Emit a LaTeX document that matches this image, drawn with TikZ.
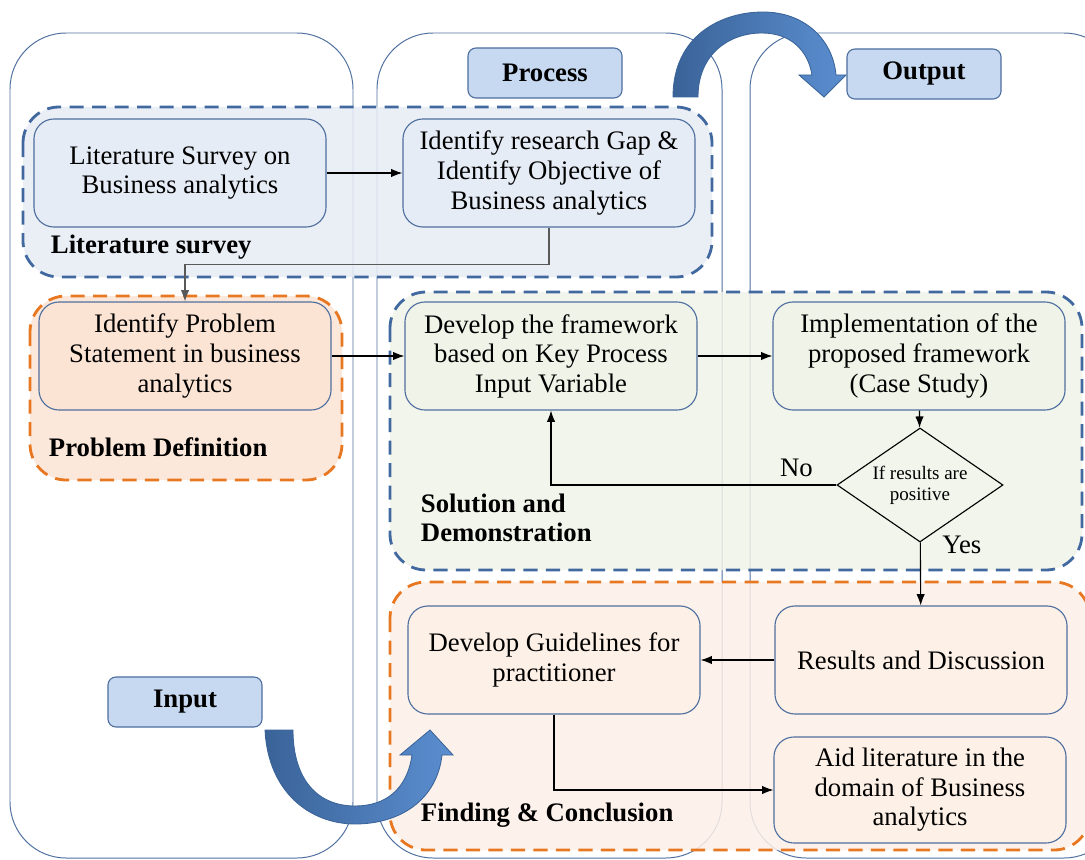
\documentclass[tikz,border=0pt]{standalone}
\usepackage{fontspec}
\setmainfont{Liberation Serif}
\usetikzlibrary{shapes.geometric,arrows.meta}
\definecolor{laneblue}{HTML}{4F6F9F}
\definecolor{dashblue}{HTML}{41689F}
\definecolor{dashorange}{HTML}{E87722}
\definecolor{tagfill}{HTML}{C6D9F1}
\definecolor{litfill}{HTML}{E6ECF5}
\definecolor{probfill}{HTML}{FCE4D4}
\definecolor{solfill}{HTML}{F0F3E8}
\definecolor{findfill}{HTML}{FDF0E7}
\definecolor{arrowdark}{HTML}{3A6398}
\definecolor{arrowlight}{HTML}{5B8ED0}
\tikzset{
  lane/.style={draw=laneblue, line width=0.7pt, rounded corners=1.4cm},
  region/.style={line width=2pt, dash pattern=on 10pt off 6pt, rounded corners=0.9cm, fill opacity=0.85},
  stepbox/.style={draw=laneblue, line width=0.8pt, rounded corners=0.5cm, minimum width=7.3cm, minimum height=2.7cm, align=center, font=\fontsize{19}{21}\selectfont},
  tagbox/.style={draw=laneblue, fill=tagfill, line width=0.8pt, rounded corners=0.2cm, minimum width=3.85cm, minimum height=1.25cm, font=\fontsize{19}{21}\selectfont\bfseries},
  regionlabel/.style={anchor=west, align=left, font=\fontsize{19}{21}\selectfont\bfseries},
  arr/.style={-{Latex[length=8pt,width=6pt]}, line width=0.8pt},
  bigarrow/.style={draw=arrowdark, line width=0.6pt, left color=arrowdark, right color=arrowlight}
}
\begin{document}
\begin{tikzpicture}[x=0.025cm,y=-0.025cm]
\useasboundingbox (0,0) rectangle (1085,860);
\clip (0,0) rectangle (1085,860);
% lanes
\draw[lane] (10,33) rectangle (353,858);
\draw[lane] (377,33) rectangle (722,858);
\draw[lane] (750,33) rectangle (1120,858);

% regions
\draw[region, draw=dashblue, fill=litfill] (23,107) rectangle (712,277);
\draw[region, draw=dashorange, fill=probfill] (30,296) rectangle (342,480);
\draw[region, draw=dashblue, fill=solfill] (390,292) rectangle (1082,570);
\draw[region, draw=dashorange, fill=findfill] (390,582) rectangle (1090,850);

% curved arrows
\draw[bigarrow] (673,97) .. controls (673,35) and (722,12) .. (763,12)
  .. controls (805,12) and (833,40) .. (836,75) -- (846,75) -- (824,97) -- (799,75) -- (812,75)
  .. controls (808,50) and (790,33) .. (762,33) .. controls (728,33) and (698,55) .. (698,97) -- cycle;
\draw[bigarrow] (265,730) .. controls (268,792) and (310,824) .. (355,824)
  .. controls (400,824) and (437,800) .. (442,755) -- (453,755) -- (430,730) -- (400,755) -- (412,755)
  .. controls (407,790) and (385,806) .. (355,806) .. controls (318,806) and (293,780) .. (293,730) -- cycle;

% tags
\node[tagbox] (process) at (545,73) {Process};
\node[tagbox] (output) at (924,74) {Output};
\node[tagbox] (input) at (185,702) {Input};

% steps
\node[stepbox, fill=litfill] (lit) at (180,173) {Literature Survey on\\Business analytics};
\node[stepbox, fill=litfill] (gap) at (549,173) {Identify research Gap \&\\Identify Objective of\\Business analytics};
\node[stepbox, fill=probfill] (prob) at (185,356) {Identify Problem\\Statement in business\\analytics};
\node[stepbox, fill=solfill] (dev) at (551,356) {Develop the framework\\based on Key Process\\Input Variable};
\node[stepbox, fill=solfill] (impl) at (919,356) {Implementation of the\\proposed framework\\(Case Study)};
\node[draw, line width=0.8pt, shape=diamond, shape aspect=1.46, inner sep=0pt, minimum width=4.15cm, minimum height=2.85cm, align=center, font=\fontsize{13.5}{15}\selectfont] (check) at (920,485) {If results are\\positive};
\node[stepbox, fill=findfill] (res) at (921,660) {Results and Discussion};
\node[stepbox, fill=findfill] (guide) at (554,660) {Develop Guidelines for\\practitioner};
\node[stepbox, fill=findfill, minimum height=2.65cm] (aid) at (920,790) {Aid literature in the\\domain of Business\\analytics};

% region labels
\node[regionlabel] (litlabel) at (46,247) {Literature survey};
\node[regionlabel] (problabel) at (44,447) {Problem Definition};
\node[regionlabel] (sollabel) at (416,518) {Solution and\\Demonstration};
\node[regionlabel] (findlabel) at (416,815) {Finding \& Conclusion};

% connectors
\draw[arr] (lit) -- (gap);
\draw[arr, draw=gray!70!black] (gap.south) -- ++(0,37) -| (prob.north);
\draw[arr] (prob) -- (dev);
\draw[arr] (dev) -- (impl);
\draw[arr] (impl) -- (check);
\draw[arr] (check.west) -| node[pos=0.07, above=2pt, font=\fontsize{19}{21}\selectfont] (no) {No} (dev.south);
\draw[arr] (check) -- node[pos=0.04, right=12pt, font=\fontsize{19}{21}\selectfont] (yes) {Yes} (res);
\draw[arr] (res) -- (guide);
\draw[arr] (guide.south) |- (aid.west);
\end{tikzpicture}
\end{document}
